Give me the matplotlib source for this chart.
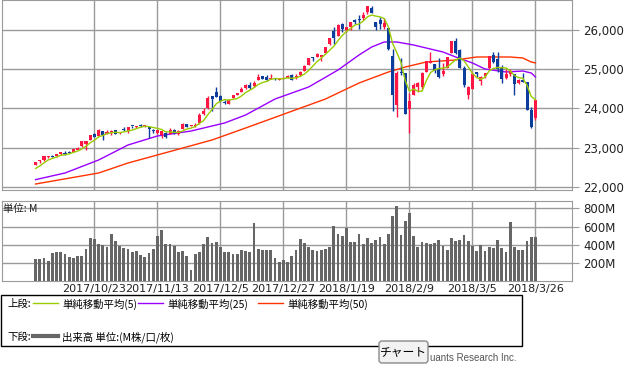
import numpy as np
import pandas as pd
import matplotlib
matplotlib.use("Agg")
import matplotlib.pyplot as plt
from matplotlib.patches import Rectangle, FancyBboxPatch
from matplotlib.lines import Line2D
from matplotlib.ticker import FuncFormatter

plt.rcParams['font.family'] = ['DejaVu Sans', 'Noto Sans CJK JP']
JP = ['Noto Sans CJK JP', 'DejaVu Sans']

# trading days 2017/10/3 - 2018/3/26
holidays = ["2017-11-23", "2017-12-25", "2018-01-01", "2018-01-15", "2018-02-19"]
dates = pd.bdate_range("2017-10-03", "2018-03-26", freq="C", holidays=holidays)

opens = [22564, 22645, 22680, 22770, 22780, 22785, 22830, 22862, 22880, 22885,
         22940, 23030, 23097, 23187, 23346, 23300, 23420, 23340, 23400, 23437,
         23364, 23442, 23430, 23545, 23530, 23575, 23540, 23530, 23440, 23380,
         23330, 23380, 23340, 23450, 23350, 23460, 23590, 23540, 23545, 23620,
         23860, 24000, 24305, 24424, 24320, 24150, 24120, 24270, 24350, 24425,
         24530, 24600, 24560, 24720, 24830, 24810, 24750, 24765, 24715, 24750,
         24771, 24850, 24810, 24850, 24964, 25115, 25309, 25312, 25307, 25404,
         25638, 25987, 25843, 26164, 26000, 26071, 26251, 26276, 26313, 26469,
         26573, 26198, 26268, 26083, 26062, 25338, 24085, 24916, 24903, 23992,
         24337, 24540, 24535, 24923, 25165, 25124, 25000, 24885, 25028, 25414,
         25707, 25484, 25024, 24340, 24500, 24928, 24700, 24817, 25030, 25360,
         25250, 25060, 24780, 24877, 24870, 24642, 24720, 24682, 23957, 23757]
highs = [22642, 22685, 22777, 22790, 22800, 22842, 22873, 22905, 22905, 22961,
         23002, 23159, 23167, 23329, 23368, 23485, 23433, 23442, 23449, 23437,
         23396, 23517, 23517, 23560, 23549, 23602, 23565, 23530, 23475, 23450,
         23415, 23395, 23492, 23461, 23447, 23616, 23602, 23561, 23625, 23870,
         24000, 24327, 24305, 24534, 24350, 24203, 24244, 24330, 24387, 24553,
         24618, 24670, 24699, 24876, 24830, 24850, 24871, 24784, 24778, 24800,
         24840, 24870, 24864, 24941, 25106, 25296, 25311, 25402, 25369, 25575,
         25804, 26086, 26153, 26171, 26071, 26215, 26285, 26393, 26458, 26616,
         26608, 26198, 26338, 26306, 26062, 25520, 24946, 25293, 24903, 24382,
         24636, 24668, 24925, 25200, 25432, 25124, 25293, 25152, 25310, 25709,
         25800, 25505, 25093, 24561, 24928, 24940, 24824, 24900, 25336, 25450,
         25450, 25100, 25000, 25001, 24870, 24757, 24900, 24682, 24041, 24202]
lows = [22551, 22606, 22660, 22740, 22746, 22770, 22800, 22821, 22855, 22885,
        22940, 23025, 22945, 23187, 23270, 23300, 23192, 23340, 23320, 23335,
        23344, 23410, 23380, 23497, 23497, 23522, 23520, 23246, 23381, 23344,
        23242, 23242, 23340, 23357, 23331, 23460, 23515, 23527, 23517, 23596,
        23837, 23988, 23921, 24279, 24173, 24110, 24116, 24262, 24340, 24425,
        24490, 24495, 24550, 24720, 24741, 24690, 24750, 24732, 24715, 24741,
        24771, 24719, 24742, 24825, 24963, 25109, 25215, 25299, 25206, 25401,
        25624, 25647, 25843, 25947, 25939, 26007, 26155, 26031, 26252, 26415,
        26435, 25992, 26035, 26014, 25490, 23923, 23778, 24856, 23849, 23360,
        24337, 24406, 24483, 24923, 25152, 24903, 24772, 24827, 25028, 25414,
        25400, 25029, 24546, 24250, 24485, 24805, 24592, 24770, 25015, 25165,
        24935, 24653, 24760, 24832, 24339, 24622, 24675, 23958, 23509, 23710]
closes = [22641, 22661, 22775, 22774, 22761, 22831, 22873, 22841, 22871, 22957,
          22997, 23158, 23163, 23329, 23274, 23441, 23329, 23400, 23434, 23348,
          23377, 23435, 23516, 23539, 23548, 23557, 23563, 23461, 23422, 23440,
          23409, 23271, 23458, 23358, 23430, 23591, 23526, 23558, 23580, 23836,
          23940, 24272, 24231, 24290, 24180, 24140, 24212, 24329, 24387, 24504,
          24585, 24509, 24652, 24792, 24754, 24726, 24782, 24754, 24746, 24774,
          24838, 24719, 24824, 24922, 25075, 25295, 25283, 25385, 25369, 25574,
          25803, 25792, 26115, 26017, 26071, 26214, 26210, 26252, 26392, 26616,
          26439, 26076, 26149, 26186, 25520, 24345, 24912, 24893, 23860, 24190,
          24601, 24640, 24893, 25200, 25219, 24964, 24797, 24962, 25310, 25709,
          25410, 25029, 24608, 24538, 24874, 24884, 24801, 24895, 25336, 25178,
          25008, 24759, 24873, 24946, 24611, 24727, 24683, 23958, 23533, 24202]
# closes of the four sessions before the first candle (for the 5-day average)
prior_closes = [22341, 22381, 22405, 22558]

volumes = [239, 239, 250, 217, 310, 318, 318, 295, 262, 250,
           273, 273, 351, 475, 464, 411, 400, 374, 520, 441,
           389, 363, 351, 318, 329, 284, 262, 307, 351, 497,
           564, 411, 411, 385, 318, 329, 273, 116, 299, 318,
           407, 486, 422, 430, 378, 318, 318, 295, 295, 340,
           329, 321, 643, 351, 340, 340, 340, 250, 206, 228,
           206, 273, 340, 464, 419, 374, 340, 329, 340, 351,
           374, 609, 520, 497, 587, 430, 430, 520, 407, 475,
           419, 452, 486, 407, 520, 721, 822, 508, 665, 744,
           497, 374, 430, 419, 407, 419, 452, 385, 340, 475,
           441, 452, 508, 441, 385, 329, 396, 329, 374, 363,
           452, 363, 318, 654, 374, 340, 340, 441, 486, 486]

# 25 / 50 day averages (candle index, value)
ma25_idx = [0, 7, 15, 22, 29, 37, 45, 50, 57, 65, 72, 77, 80, 83, 86, 90,
            93, 97, 100, 104, 107, 112, 116, 118, 119]
ma25_val = [22180, 22349, 22681, 23064, 23294, 23421, 23626, 23830, 24238, 24545,
            24979, 25362, 25566, 25694, 25694, 25617, 25540, 25438, 25311, 25158,
            25004, 24928, 24953, 24902, 24800]
ma50_idx = [0, 15, 22, 42, 50, 69, 77, 84, 88, 93, 100, 105, 113, 116, 118, 119]
ma50_val = [22068, 22349, 22604, 23192, 23498, 24238, 24647, 24928, 25055, 25183,
            25234, 25311, 25311, 25285, 25183, 25160]

tick_dates = ["2017/10/23", "2017/11/13", "2017/12/5", "2017/12/27",
              "2018/1/19", "2018/2/9", "2018/3/5", "2018/3/26"]
price_ticks = [22000, 23000, 24000, 25000, 26000]
vol_ticks = [200, 400, 600, 800]

RED = "#ff1744"
BLUE = "#0d3d9c"
GRID = "#9a9a9a"

o = np.array(opens, float)
h = np.array(highs, float)
l = np.array(lows, float)
c = np.array(closes, float)
x = np.arange(len(c))
ma5 = pd.Series(prior_closes + closes).rolling(5).mean().to_numpy()[len(prior_closes):]
day_pos = {d.strftime("%Y/%-m/%-d"): i for i, d in enumerate(dates)}
tick_pos = [day_pos[t] for t in tick_dates]

W, H = 633, 374
def box(left, top, w, hgt):
    return [left / W, 1 - (top + hgt) / H, w / W, hgt / H]

fig = plt.figure(figsize=(W / 100, H / 100), dpi=100)
ax = fig.add_axes(box(2, 0, 570, 190))
axv = fig.add_axes(box(2, 201, 570, 80))

# price pane
col = np.where(c >= o, RED, BLUE)
ax.vlines(x, l, h, colors=col, lw=1, zorder=3)
ax.bar(x, np.maximum(np.abs(c - o), 25), 0.72, bottom=np.minimum(o, c), color=col, zorder=3)
ax.plot(x, ma5, color="#99cc00", lw=1, zorder=4)
ax.plot(ma25_idx, ma25_val, color="#9900ff", lw=1, zorder=2)
ax.plot(ma50_idx, ma50_val, color="#ff3300", lw=1, zorder=2)
ax.set_xlim(-8.0, 127.7)
ax.set_ylim(21915, 26766)
ax.set_yticks(price_ticks)
ax.yaxis.set_major_formatter(FuncFormatter(lambda v, p: f"{int(v):,}"))

# volume pane
axv.bar(x, volumes, 0.66, color="#666666", zorder=3)
axv.set_xlim(-8.0, 127.7)
axv.set_ylim(0, 881)
axv.set_yticks(vol_ticks)
axv.set_yticklabels([f"{v}M" for v in vol_ticks])

for a in (ax, axv):
    a.set_xticks(tick_pos)
    a.grid(color=GRID, lw=1, zorder=0)
    a.yaxis.tick_right()
    a.tick_params(axis="y", length=5, color=GRID, labelsize=8.5, labelcolor="#222222", pad=3)
    a.tick_params(axis="x", length=0)
    for s in a.spines.values():
        s.set_color(GRID)
ax.tick_params(axis="x", labelbottom=False)
axv.set_xticklabels(tick_dates)
axv.tick_params(axis="x", labelsize=8, labelcolor="#222222", pad=2)

# overlay for legend / captions in pixel units
ov = fig.add_axes([0, 0, 1, 1], zorder=10)
ov.set_xlim(0, W)
ov.set_ylim(H, 0)
ov.axis("off")
ov.patch.set_visible(False)

ov.text(3, 209, "単位: M", family=JP, fontsize=7.5, va="center", color="#222222")

ov.add_patch(Rectangle((0.5, 295), 521.5, 51, fill=False, ec="black", lw=1))
ov.text(7, 304, "上段:", family=JP, fontsize=7.5, va="center")
ov.text(7, 337, "下段:", family=JP, fontsize=7.5, va="center")
legend_items = [(33, "#99cc00", "単純移動平均(5)"),
                (138, "#9900ff", "単純移動平均(25)"),
                (258, "#ff3300", "単純移動平均(50)")]
for x0, cl, label in legend_items:
    ov.add_line(Line2D([x0, x0 + 25], [303, 303], color=cl, lw=1))
    ov.text(x0 + 29, 304, label, family=JP, fontsize=7.5, va="center")
ov.add_line(Line2D([33, 58], [336, 336], color="#666666", lw=3))
ov.text(62, 337, "出来高 単位:(M株/口/枚)", family=JP, fontsize=7.5, va="center")

# copyright text partly hidden behind the button in the original
ov.text(429.5, 358, "uants Research Inc.", family="Liberation Sans", fontsize=7,
        color="#555555", ha="left", va="center")
ov.add_patch(FancyBboxPatch((379, 341), 49, 22, boxstyle="round,pad=0,rounding_size=3",
                            fc="#f2f2f2", ec="#8a8a8a", lw=1, zorder=5))
ov.text(403.5, 352, "チャート", family=JP, fontsize=8.5, ha="center", va="center", zorder=6)

fig.savefig("out.png", dpi=100)
